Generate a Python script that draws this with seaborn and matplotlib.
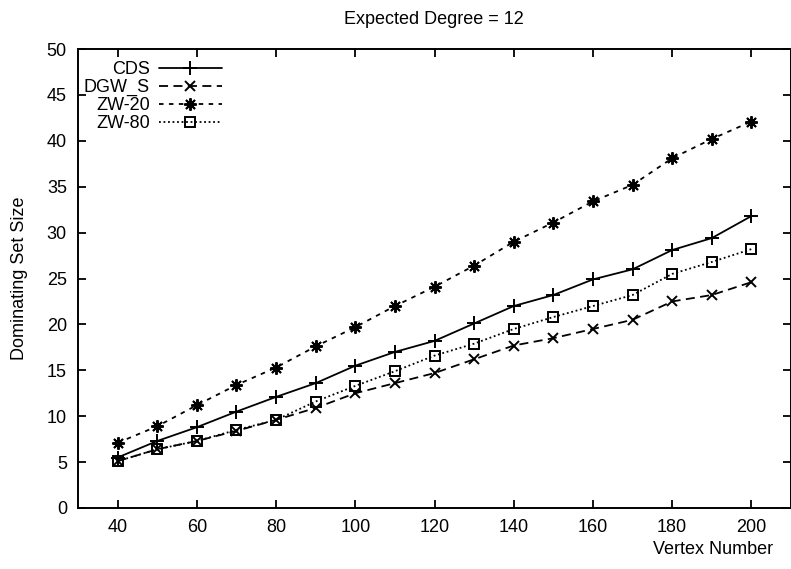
import matplotlib
matplotlib.use("Agg")
import matplotlib.pyplot as plt
import seaborn as sns
import pandas as pd

# Dominating set size versus number of vertices (expected degree 12)
vertices = [40, 50, 60, 70, 80, 90, 100, 110, 120, 130, 140, 150, 160, 170, 180, 190, 200]
cds = [5.5, 7.3, 8.8, 10.5, 12.1, 13.6, 15.5, 17.0, 18.2, 20.1, 22.0, 23.2, 24.9, 26.0, 28.1, 29.4, 31.8]
dgw_s = [5.1, 6.4, 7.3, 8.4, 9.6, 10.9, 12.5, 13.6, 14.7, 16.2, 17.7, 18.5, 19.5, 20.5, 22.5, 23.2, 24.6]
zw_20 = [7.1, 8.9, 11.2, 13.4, 15.3, 17.6, 19.7, 22.0, 24.1, 26.4, 29.0, 31.1, 33.4, 35.2, 38.1, 40.2, 42.1]
zw_80 = [5.1, 6.4, 7.3, 8.5, 9.6, 11.6, 13.3, 14.9, 16.6, 17.9, 19.5, 20.8, 22.0, 23.2, 25.5, 26.8, 28.2]

series_names = ["CDS", "DGW_S", "ZW-20", "ZW-80"]
series_values = [cds, dgw_s, zw_20, zw_80]

x_ticks = [40, 60, 80, 100, 120, 140, 160, 180, 200]
y_ticks = [0, 5, 10, 15, 20, 25, 30, 35, 40, 45, 50]

sns.set_style("ticks", {"axes.edgecolor": "black", "text.color": "black",
                        "xtick.color": "black", "ytick.color": "black",
                        "axes.labelcolor": "black"})
plt.rcParams["font.family"] = ["Liberation Sans", "DejaVu Sans"]

styles = {
    "CDS": dict(linestyle="-", marker="+", markersize=10, mfc="none"),
    "DGW_S": dict(linestyle=(0, (5, 3)), marker="x", markersize=7, mfc="none"),
    "ZW-20": dict(linestyle=(0, (2.5, 3)), marker=(8, 2, 0), markersize=9, mfc="none"),
    "ZW-80": dict(linestyle=(0, (1, 1.5)), marker="s", markersize=7, mfc="none"),
}

frames = []
for name, vals in zip(series_names, series_values):
    frames.append(pd.DataFrame({"Vertex Number": vertices,
                                "Dominating Set Size": vals,
                                "series": name}))
df = pd.concat(frames, ignore_index=True)

fig = plt.figure(figsize=(7.91, 5.69), dpi=100)
ax = fig.add_axes([78 / 791, 1 - 508 / 569, 713 / 791, (508 - 49) / 569])

for name in series_names:
    sub = df[df["series"] == name]
    sns.lineplot(data=sub, x="Vertex Number", y="Dominating Set Size", ax=ax,
                 color="black", linewidth=1.3, markeredgewidth=1.4,
                 markeredgecolor="black", label=name, **styles[name])

ax.set_xlim(30, 210)
ax.set_ylim(0, 50)
ax.set_xticks(x_ticks)
ax.set_yticks(y_ticks)
ax.tick_params(axis="both", direction="in", length=6, width=1.3,
               top=True, right=True, labelsize=13, pad=8,
               colors="black")
for sp in ax.spines.values():
    sp.set_visible(True)
    sp.set_linewidth(1.4)
    sp.set_color("black")

ax.set_xlabel("")
ax.set_ylabel("")
fig.text(20 / 791, 1 - 278 / 569, "Dominating Set Size", rotation=90,
         ha="center", va="center", fontsize=13, color="black")
fig.text(773 / 791, 1 - 550 / 569, "Vertex Number", ha="right",
         va="center", fontsize=13, color="black")
fig.text(434 / 791, 1 - 20 / 569, "Expected Degree = 12", ha="center",
         va="center", fontsize=13, color="black")

handles, labels = ax.get_legend_handles_labels()
leg = ax.legend(handles, labels, loc="upper right",
                bbox_to_anchor=(222 / 791, 1 - 61 / 569),
                bbox_transform=fig.transFigure, frameon=False,
                markerfirst=False, fontsize=13, handlelength=3.5,
                handletextpad=0.5, labelspacing=0.05, borderpad=0,
                borderaxespad=0, labelcolor="black")
for column in leg._legend_box._children[-1]._children:
    column.align = "right"

fig.savefig("out.png", dpi=100)
